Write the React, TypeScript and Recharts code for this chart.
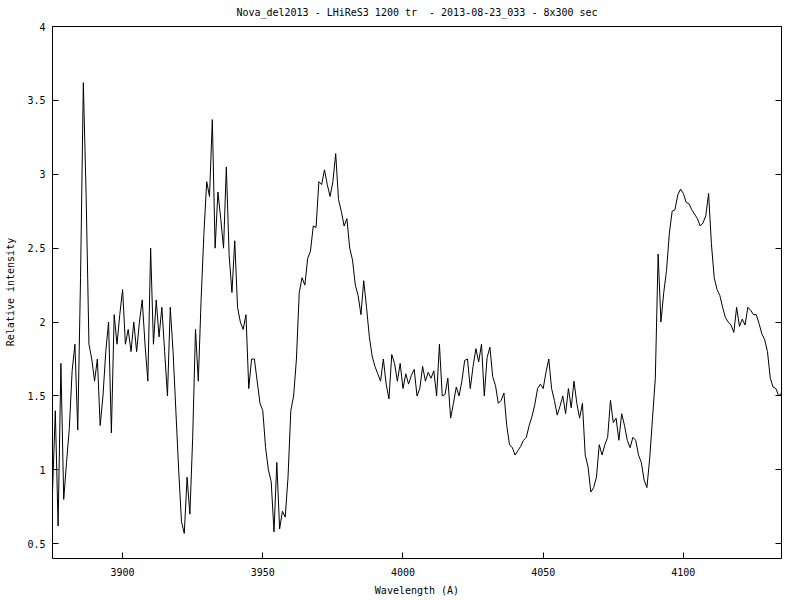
import { LineChart, Line, XAxis, YAxis } from "recharts";

// Relative intensity, one value per Angstrom starting at 3875 A
const intensity = [
  0.85, 1.40, 0.62, 1.72, 0.80, 1.05, 1.28, 1.67, 1.85, 1.27,
  2.30, 3.62, 2.85, 1.85, 1.75, 1.60, 1.75, 1.30, 1.50, 1.80,
  2.00, 1.25, 2.05, 1.85, 2.05, 2.22, 1.85, 1.95, 1.80, 2.00,
  1.80, 2.00, 2.15, 1.85, 1.60, 2.50, 1.85, 2.15, 1.90, 2.10,
  1.80, 1.50, 2.10, 1.80, 1.40, 1.00, 0.65, 0.57, 0.95, 0.70,
  1.22, 1.95, 1.60, 2.15, 2.60, 2.95, 2.85, 3.37, 2.50, 2.88,
  2.70, 2.50, 3.05, 2.45, 2.20, 2.55, 2.10, 2.00, 1.95, 2.05,
  1.55, 1.75, 1.75, 1.60, 1.45, 1.40, 1.15, 1.00, 0.92, 0.58,
  1.05, 0.60, 0.72, 0.68, 0.95, 1.40, 1.50, 1.75, 2.20, 2.30,
  2.25, 2.43, 2.48, 2.65, 2.64, 2.95, 2.93, 3.03, 2.93, 2.85,
  2.95, 3.14, 2.83, 2.75, 2.65, 2.70, 2.50, 2.42, 2.25, 2.18,
  2.05, 2.28, 2.10, 1.90, 1.77, 1.70, 1.65, 1.60, 1.75, 1.58,
  1.48, 1.78, 1.72, 1.60, 1.72, 1.55, 1.65, 1.58, 1.64, 1.68,
  1.50, 1.55, 1.70, 1.60, 1.66, 1.62, 1.67, 1.50, 1.85, 1.50,
  1.51, 1.62, 1.35, 1.45, 1.56, 1.50, 1.60, 1.74, 1.75, 1.55,
  1.70, 1.82, 1.73, 1.85, 1.50, 1.76, 1.83, 1.63, 1.57, 1.45,
  1.47, 1.52, 1.30, 1.17, 1.15, 1.10, 1.13, 1.16, 1.20, 1.22,
  1.30, 1.36, 1.44, 1.55, 1.58, 1.55, 1.66, 1.75, 1.55, 1.47,
  1.37, 1.43, 1.50, 1.38, 1.55, 1.42, 1.60, 1.45, 1.35, 1.45,
  1.10, 1.02, 0.85, 0.88, 0.95, 1.17, 1.10, 1.17, 1.22, 1.47,
  1.32, 1.35, 1.20, 1.38, 1.30, 1.20, 1.15, 1.22, 1.20, 1.10,
  1.05, 0.93, 0.88, 1.08, 1.35, 1.62, 2.46, 2.00, 2.20, 2.35,
  2.60, 2.75, 2.76, 2.86, 2.90, 2.87, 2.81, 2.80, 2.76, 2.73,
  2.70, 2.65, 2.67, 2.72, 2.87, 2.53, 2.30, 2.22, 2.18, 2.10,
  2.03, 2.00, 1.98, 1.93, 2.10, 1.97, 2.02, 1.98, 2.10, 2.08,
  2.05, 2.05, 1.99, 1.92, 1.88, 1.80, 1.62, 1.56, 1.55, 1.50,
  1.52,
];
const startWavelength = 3875;
const wavelengths = intensity.map((_, i) => startWavelength + i);

const xDomain = [3875, 4135];
const yDomain = [0.4, 4];
const xTicks = [3900, 3950, 4000, 4050, 4100];
const yTicks = [0.5, 1, 1.5, 2, 2.5, 3, 3.5, 4];

const data = wavelengths.map((w, i) => ({ w, v: intensity[i] }));

const font = "'DejaVu Sans Mono', monospace";
const TICK = 6;
const snap = (n: number) => Math.round(n - 0.5) + 0.5;

const BottomTick = ({ x, y, payload }: any) => (
  <g>
    <line x1={snap(x)} y1={y} x2={snap(x)} y2={y - TICK} stroke="#000" />
    <text x={x} y={y + 17} textAnchor="middle" fontSize={10} fontFamily={font} fill="#000">
      {payload.value}
    </text>
  </g>
);

const TopTick = ({ x, y }: any) => (
  <line x1={snap(x)} y1={y} x2={snap(x)} y2={y + TICK} stroke="#000" />
);

const LeftTick = ({ x, y, payload }: any) => (
  <g>
    <line x1={x} y1={snap(y)} x2={x + TICK} y2={snap(y)} stroke="#000" />
    <text x={x - 7} y={y + 4} textAnchor="end" fontSize={10} fontFamily={font} fill="#000">
      {payload.value}
    </text>
  </g>
);

const RightTick = ({ x, y }: any) => (
  <line x1={x} y1={snap(y)} x2={x - TICK} y2={snap(y)} stroke="#000" />
);

const textStyle = {
  position: "absolute" as const,
  fontFamily: font,
  fontSize: 10,
  lineHeight: "12px",
  color: "#000",
  whiteSpace: "pre" as const,
};

export default function App() {
  return (
    <div style={{ position: "absolute", left: 0, top: 0, width: 800, height: 600, background: "#fff" }}>
      <LineChart
        width={800}
        height={600}
        data={data}
        margin={{ top: 25.5, right: 17.5, bottom: 40.5, left: 51.5 }}
      >
        <XAxis
          dataKey="w"
          type="number"
          domain={xDomain}
          ticks={xTicks}
          interval={0}
          allowDataOverflow
          height={1}
          tickSize={0}
          tickMargin={0}
          tickLine={false}
          axisLine={{ stroke: "#000" }}
          tick={<BottomTick />}
        />
        <XAxis
          xAxisId="top"
          orientation="top"
          type="number"
          domain={xDomain}
          ticks={xTicks}
          interval={0}
          allowDataOverflow
          height={1}
          tickSize={0}
          tickMargin={0}
          tickLine={false}
          axisLine={{ stroke: "#000" }}
          tick={<TopTick />}
        />
        <YAxis
          type="number"
          domain={yDomain}
          ticks={yTicks}
          interval={0}
          allowDataOverflow
          width={1}
          tickSize={0}
          tickMargin={0}
          tickLine={false}
          axisLine={{ stroke: "#000" }}
          tick={<LeftTick />}
        />
        <YAxis
          yAxisId="right"
          orientation="right"
          type="number"
          domain={yDomain}
          ticks={yTicks}
          interval={0}
          allowDataOverflow
          width={1}
          tickSize={0}
          tickMargin={0}
          tickLine={false}
          axisLine={{ stroke: "#000" }}
          tick={<RightTick />}
        />
        <Line
          type="linear"
          dataKey="v"
          stroke="#000"
          strokeWidth={1}
          dot={false}
          activeDot={false}
          isAnimationActive={false}
        />
      </LineChart>
      <div style={{ ...textStyle, left: 417, top: 7, transform: "translateX(-50%)" }}>
        Nova_del2013 - LHiReS3 1200 tr  - 2013-08-23_033 - 8x300 sec
      </div>
      <div style={{ ...textStyle, left: 417, top: 585, transform: "translateX(-50%)" }}>
        Wavelength (A)
      </div>
      <div
        style={{
          ...textStyle,
          left: 11,
          top: 292,
          transform: "translate(-50%, -50%) rotate(-90deg)",
        }}
      >
        Relative intensity
      </div>
    </div>
  );
}
